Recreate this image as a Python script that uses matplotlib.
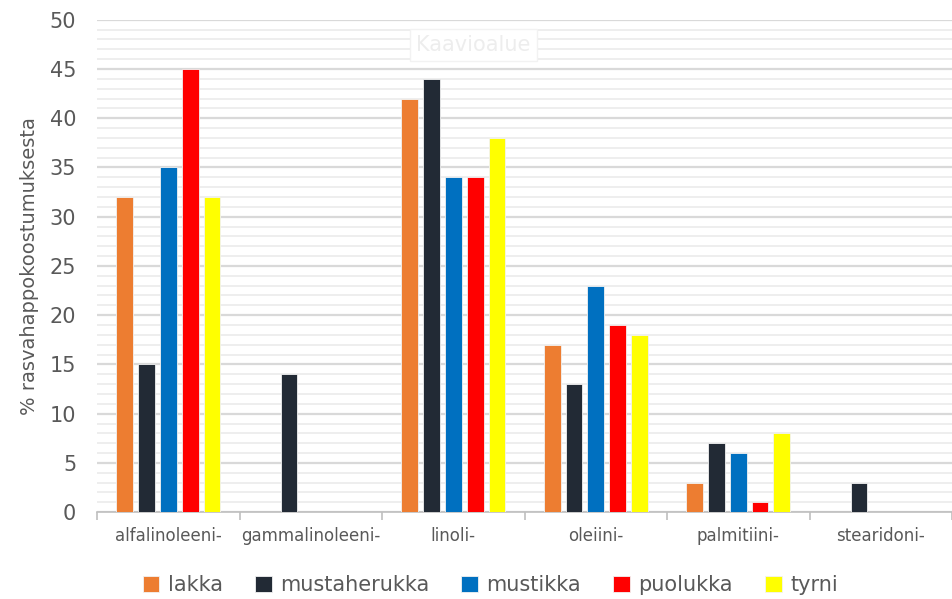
import numpy as np
import matplotlib.pyplot as plt

# Rasvahapot ja marjat
hapot = ['alfalinoleeni-', 'gammalinoleeni-', 'linoli-', 'oleiini-', 'palmitiini-', 'stearidoni-']
lakka = [32, 0, 42, 17, 3, 0]
mustaherukka = [15, 14, 44, 13, 7, 3]
mustikka = [35, 0, 34, 23, 6, 0]
puolukka = [45, 0, 34, 19, 1, 0]
tyrni = [32, 0, 38, 18, 8, 0]

sarjat = [('lakka', lakka, '#ED7D31'),
          ('mustaherukka', mustaherukka, '#222A35'),
          ('mustikka', mustikka, '#0070C0'),
          ('puolukka', puolukka, '#FF0000'),
          ('tyrni', tyrni, '#FFFF00')]

fig = plt.figure(figsize=(9.52, 5.99), dpi=100)
ax = fig.add_axes([0.102, 0.145, 0.898, 0.822])

x = np.arange(len(hapot))
leveys = 0.118
vali = 0.153
for i, (nimi, arvot, vari) in enumerate(sarjat):
    ax.bar(x + (i - 2) * vali, arvot, leveys, color=vari, label=nimi,
           edgecolor='#f2f2f2', linewidth=0.6, zorder=3)

ax.set_xlim(-0.5, len(hapot) - 0.5)
ax.set_ylim(0, 50)
ax.set_yticks(range(0, 51, 5))
ax.set_yticks(range(0, 51, 1), minor=True)
ax.grid(axis='y', which='major', color='#d9d9d9', linewidth=1.6, zorder=0)
ax.grid(axis='y', which='minor', color='#eeeeee', linewidth=1.4, zorder=0)

ax.set_xticks(x)
ax.set_xticklabels(hapot, fontsize=12, color='#595959')
ax.tick_params(axis='x', which='major', length=0, pad=11)
ax.set_xticks(np.arange(-0.5, len(hapot), 1), minor=True)
ax.tick_params(axis='x', which='minor', length=6, color='#bfbfbf', width=1.2)
ax.tick_params(axis='y', which='both', length=0, labelsize=15, labelcolor='#595959', pad=15)

for s in ['top', 'right', 'left']:
    ax.spines[s].set_visible(False)
ax.spines['bottom'].set_color('#bfbfbf')
ax.spines['bottom'].set_linewidth(1.2)

ax.set_ylabel('% rasvahappokoostumuksesta', fontsize=14, color='#595959', labelpad=8)

# haalea "Kaavioalue"-teksti
ax.text(0.44, 0.949, 'Kaavioalue', transform=ax.transAxes, fontsize=15,
        color='#ededed', ha='center', va='center', zorder=4,
        bbox=dict(boxstyle='square,pad=0.3', fc='white', ec='#f2f2f2', lw=1))

fig.legend(loc='lower center', bbox_to_anchor=(0.515, -0.025), ncol=5, frameon=False,
           fontsize=15, handlelength=0.8, handleheight=0.8, handletextpad=0.4,
           columnspacing=1.55, labelcolor='#595959')

fig.savefig('out.png', dpi=100)
